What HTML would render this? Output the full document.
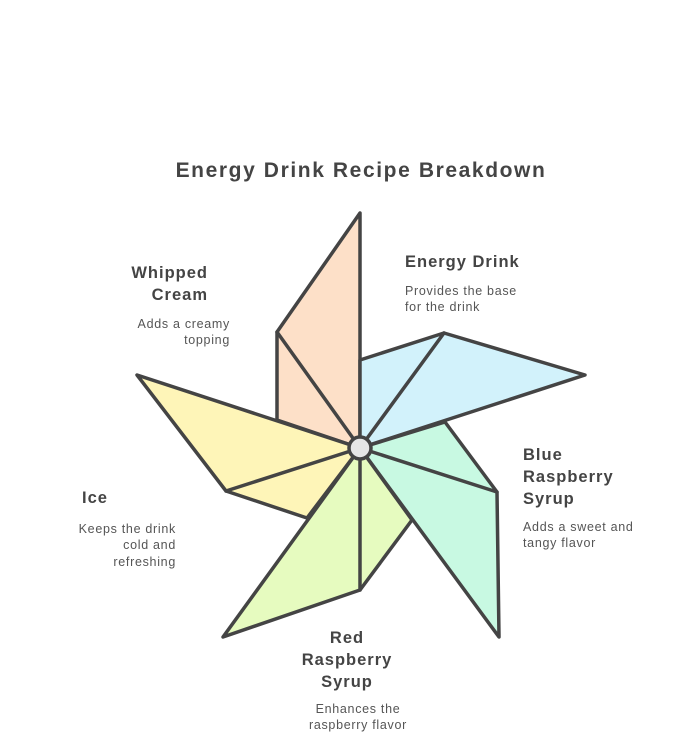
<!DOCTYPE html>
<html><head><meta charset="utf-8"><style>
html,body{margin:0;padding:0;background:#fff;}
svg{display:block}
.t{font-family:"Liberation Sans",sans-serif;fill:#444;}
.h{font-weight:bold;font-size:16.5px;letter-spacing:1px;}
.d{font-size:12.5px;fill:#555;letter-spacing:0.7px;}
</style></head><body>
<svg width="696" height="744" viewBox="0 0 696 744" xmlns="http://www.w3.org/2000/svg">
<rect width="696" height="744" fill="#fff"/>
<text class="t" x="361" y="177" text-anchor="middle" font-size="21" font-weight="bold" letter-spacing="1.6">Energy Drink Recipe Breakdown</text>
<g stroke="#444" stroke-width="3.5" stroke-linejoin="round" stroke-linecap="round">
<polygon points="360,448 360,213 277,332 277,420" fill="#fde0c8"/>
<line x1="277" y1="332" x2="360" y2="448"/>
<polygon points="360,448 360,360 444,333 585,375" fill="#d2f2fb"/>
<line x1="444" y1="333" x2="360" y2="448"/>
<polygon points="360,448 445,422 497,492 499,637" fill="#c8f9e2"/>
<line x1="497" y1="492" x2="360" y2="448"/>
<polygon points="360,448 412,520 360,590 223,637" fill="#e6fbbf"/>
<line x1="360" y1="590" x2="360" y2="448"/>
<polygon points="360,448 307,518 226,491 137,375" fill="#fef5b8"/>
<line x1="226" y1="491" x2="360" y2="448"/>
<circle cx="360" cy="448" r="11" fill="#e6e6e6"/>
</g>
<text class="t h" x="405" y="267">Energy Drink</text>
<text class="t d" x="405" y="295">Provides the base</text>
<text class="t d" x="405" y="311">for the drink</text>
<text class="t h" x="208" y="278" text-anchor="end">Whipped</text>
<text class="t h" x="208" y="300" text-anchor="end">Cream</text>
<text class="t d" x="230" y="328" text-anchor="end">Adds a creamy</text>
<text class="t d" x="230" y="344" text-anchor="end">topping</text>
<text class="t h" x="523" y="460">Blue</text>
<text class="t h" x="523" y="482">Raspberry</text>
<text class="t h" x="523" y="504">Syrup</text>
<text class="t d" x="523" y="531">Adds a sweet and</text>
<text class="t d" x="523" y="547">tangy flavor</text>
<text class="t h" x="82" y="503">Ice</text>
<text class="t d" x="176" y="533" text-anchor="end">Keeps the drink</text>
<text class="t d" x="176" y="549" text-anchor="end">cold and</text>
<text class="t d" x="176" y="566" text-anchor="end">refreshing</text>
<text class="t h" x="347" y="643" text-anchor="middle">Red</text>
<text class="t h" x="347" y="665" text-anchor="middle">Raspberry</text>
<text class="t h" x="347" y="687" text-anchor="middle">Syrup</text>
<text class="t d" x="358" y="713" text-anchor="middle">Enhances the</text>
<text class="t d" x="358" y="729" text-anchor="middle">raspberry flavor</text>
</svg>
</body></html>
